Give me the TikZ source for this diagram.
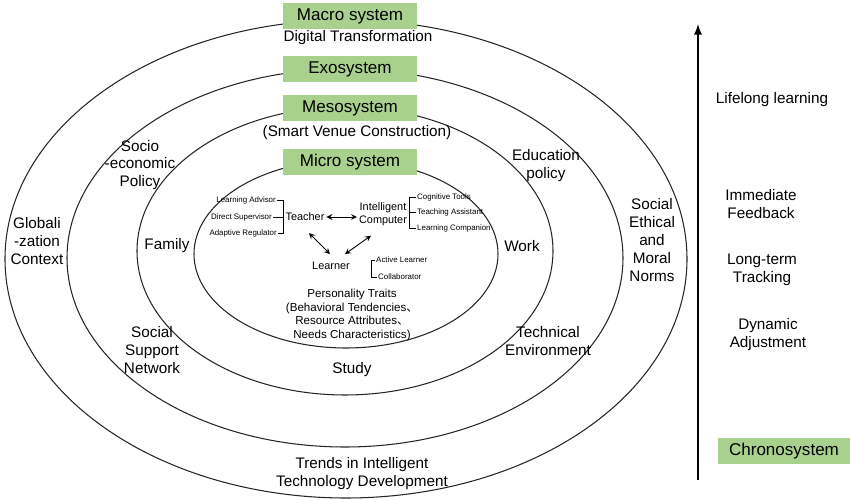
\documentclass[tikz,border=0pt]{standalone}
\usepackage{fontspec}
\setmainfont{Liberation Sans}
\newfontfamily\cjk{Noto Sans CJK SC}
\usetikzlibrary{positioning}
\definecolor{sysgreen}{HTML}{A9D18E}
\tikzset{
  sysbox/.style={fill=sysgreen, minimum width=2.68cm, minimum height=0.54cm, inner sep=0pt, font=\fontsize{9.7}{11}\selectfont},
  ring/.style={draw=black!85, line width=0.6pt},
  lbl/.style={align=center, inner sep=1pt, font=\fontsize{8.7}{10.2}\selectfont},
  actor/.style={align=center, inner sep=1pt, font=\fontsize{6.2}{7.4}\selectfont},
  role/.style={inner sep=0.5pt, font=\fontsize{4.5}{5.4}\selectfont},
  link/.style={<->, >=stealth, line width=0.5pt},
  brk/.style={line width=0.4pt},
}
\begin{document}
\begin{tikzpicture}[x=0.02cm, y=-0.02cm]
\useasboundingbox (0,0) rectangle (850,500);

% the four rings
\draw [ring] (346,259) ellipse [x radius=341, y radius=239];
\draw [ring] (345,258) ellipse [x radius=278, y radius=189];
\draw [ring] (345,251) ellipse [x radius=208, y radius=144];
\draw [ring] (346,254) ellipse [x radius=152, y radius=94];

% system titles
\node [sysbox] (macro) at (350,16) {Macro system};
\node [lbl] (digital) at (358,38) {Digital Transformation};
\node [sysbox] (exo) at (350,69) {Exosystem};
\node [sysbox] (meso) at (350,108) {Mesosystem};
\node [lbl] (venue) at (357,133) {(Smart Venue Construction)};
\node [sysbox] (micro) at (350,162) {Micro system};

% ring labels
\node [lbl] (socio) at (140,165) {Socio\\-economic\\Policy};
\node [lbl] (global) at (37,241) {Globali\\-zation\\Context};
\node [lbl] (family) at (167,246) {Family};
\node [lbl] (edu) at (546,166) {Education\\policy};
\node [lbl] (work) at (522,246) {Work};
\node [lbl] (norms) at (652,240) {Social\\Ethical\\and\\Moral\\Norms};
\node [lbl] (support) at (152,350) {Social\\Support\\Network};
\node [lbl] (techenv) at (548,341) {Technical\\Environment};
\node [lbl] (study) at (352,370) {Study};
\node [lbl] (trends) at (362,474) {Trends in Intelligent\\Technology Development};

% micro system actors
\node [actor] (teacher) at (305,217) {Teacher};
\node [actor] (computer) at (383,214) {Intelligent\\Computer};
\node [actor] (learner) at (331,266) {Learner};
\draw [link] (teacher.east) -- (teacher.east -| computer.west);
\draw [link] ([shift={(4,10)}]teacher.south) -- ([shift={(-1,-6)}]learner.north);
\draw [link] ([shift={(-12,8)}]computer.south) -- ([shift={(14,-6)}]learner.north);

% roles of the teacher
\node [role, anchor=east] (advisor) at (277,200) {Learning Advisor};
\node [role, anchor=east] (supervisor) at (273,217) {Direct Supervisor};
\node [role, anchor=east] (regulator) at (278,233) {Adaptive Regulator};
\draw [brk] (advisor.east) -- (advisor.east -| teacher.west) -- (regulator.east -| teacher.west) -- (regulator.east);
\draw [brk] (supervisor.east) -- (teacher.west);

% roles of the computer
\node [role, anchor=west] (cognitive) at (416,197) {Cognitive Tools};
\node [role, anchor=west] (assistant) at (416,212) {Teaching Assistant};
\node [role, anchor=west] (companion) at (416,228) {Learning Companion};
\draw [brk] (cognitive.west) -- (cognitive.west -| computer.east) -- (companion.west -| computer.east) -- (companion.west);
\draw [brk] (assistant.west) -- (assistant.west -| computer.east);

% roles of the learner
\coordinate (lbrk) at (371,268);
\node [role, anchor=west] (active) at (375,260) {Active Learner};
\node [role, anchor=west] (collab) at (377,277) {Collaborator};
\draw [brk] (active.west) -- (active.west -| lbrk) -- (collab.west -| lbrk) -- (collab.west);

\node [actor, font=\fontsize{6.6}{7.6}\selectfont] (traits) at (352,315)
  {Personality Traits\\(Behavioral Tendencies{\cjk 、}\\Resource Attributes{\cjk 、}\\Needs Characteristics)};

% time axis
\coordinate (tbot) at (698,480);
\coordinate (ttop) at (698,24);
\draw [->, >=latex, line width=1.1pt] (tbot) -- (ttop);
\node [lbl] (lifelong) at (772,100) {Lifelong learning};
\node [lbl] (feedback) at (761,204) {Immediate\\Feedback};
\node [lbl] (tracking) at (762,270) {Long-term\\Tracking};
\node [lbl] (dynamic) at (768,335) {Dynamic\\Adjustment};
\node [sysbox, minimum width=2.64cm] (chrono) at (784,451) {Chronosystem};
\end{tikzpicture}
\end{document}
